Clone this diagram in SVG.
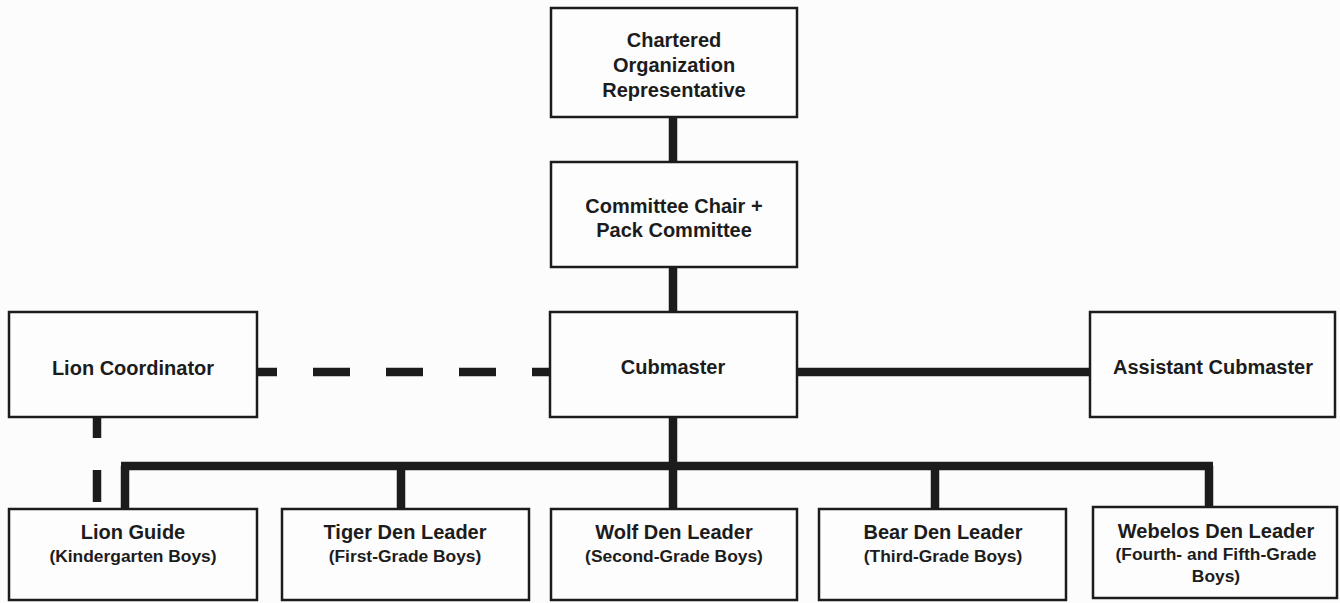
<svg xmlns="http://www.w3.org/2000/svg" width="1340" height="603" viewBox="0 0 1340 603">
<style>
.box{fill:#fdfdfd;stroke:#1c1c1c;stroke-width:2.5}
.t{font-family:"Liberation Sans",Arial,sans-serif;font-weight:bold;font-size:20px;fill:#1c1c1c;text-anchor:middle}
.s{font-family:"Liberation Sans",Arial,sans-serif;font-weight:bold;font-size:17.4px;fill:#1c1c1c;text-anchor:middle}
.c{fill:none;stroke:#1c1c1c;stroke-width:8.5}
</style>
<rect width="1340" height="603" fill="#fcfcfc"/>
<g id="connectors">
<path class="c" d="M673,117V162M673,267V312M673,417V466M121,466H1213M125,466V509M401,466V509M673,466V509M935,466V509M1209,466V509M797,372H1090"/>
<path class="c" d="M257,372H550" stroke-dasharray="37 36" stroke-dashoffset="17"/>
<path class="c" d="M97,417V502" stroke-dasharray="21 32 32 100"/>
</g>
<g id="chartered-org-rep">
<rect class="box" x="551" y="8" width="246" height="109"/>
<text class="t" x="674" y="47">Chartered</text>
<text class="t" x="674" y="72">Organization</text>
<text class="t" x="674" y="97">Representative</text>
</g>
<g id="committee-chair">
<rect class="box" x="551" y="162" width="246" height="105"/>
<text class="t" x="674" y="213">Committee Chair +</text>
<text class="t" x="674" y="237">Pack Committee</text>
</g>
<g id="cubmaster">
<rect class="box" x="550" y="312" width="247" height="105"/>
<text class="t" x="673" y="374">Cubmaster</text>
</g>
<g id="lion-coordinator">
<rect class="box" x="9" y="312" width="248" height="105"/>
<text class="t" x="133" y="375">Lion Coordinator</text>
</g>
<g id="assistant-cubmaster">
<rect class="box" x="1090" y="312" width="245" height="105"/>
<text class="t" x="1213" y="374">Assistant Cubmaster</text>
</g>
<g id="lion-guide">
<rect class="box" x="9" y="509" width="248" height="91"/>
<text class="t" x="133" y="539">Lion Guide</text>
<text class="s" x="133" y="562">(Kindergarten Boys)</text>
</g>
<g id="tiger-den-leader">
<rect class="box" x="282" y="509" width="247" height="91"/>
<text class="t" x="405" y="539">Tiger Den Leader</text>
<text class="s" x="405" y="562">(First-Grade Boys)</text>
</g>
<g id="wolf-den-leader">
<rect class="box" x="551" y="509" width="246" height="91"/>
<text class="t" x="674" y="539">Wolf Den Leader</text>
<text class="s" x="674" y="562">(Second-Grade Boys)</text>
</g>
<g id="bear-den-leader">
<rect class="box" x="819" y="509" width="247" height="91"/>
<text class="t" x="943" y="539">Bear Den Leader</text>
<text class="s" x="943" y="562">(Third-Grade Boys)</text>
</g>
<g id="webelos-den-leader">
<rect class="box" x="1093" y="507" width="244" height="91"/>
<text class="t" x="1216" y="538">Webelos Den Leader</text>
<text class="s" x="1216" y="560">(Fourth- and Fifth-Grade</text>
<text class="s" x="1216" y="582">Boys)</text>
</g>
</svg>
